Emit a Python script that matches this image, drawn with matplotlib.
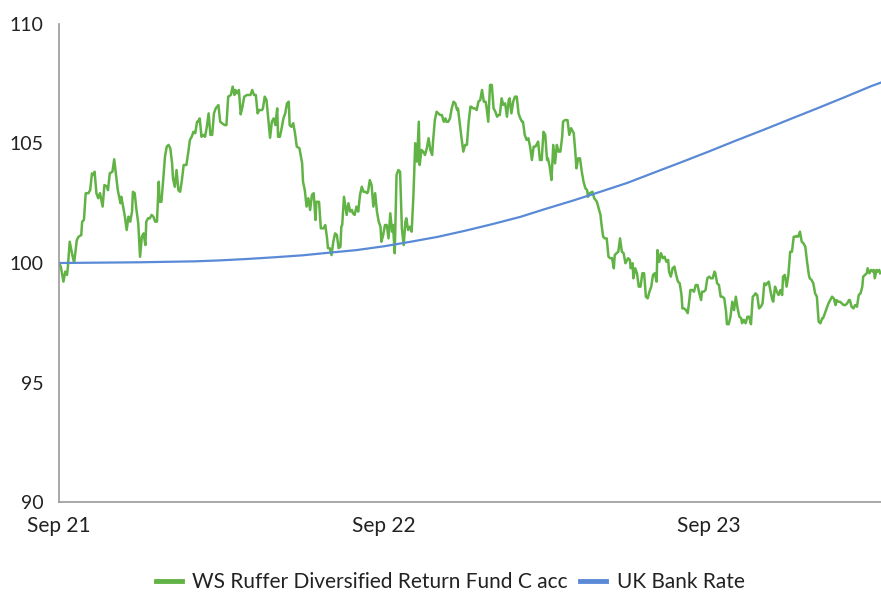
import matplotlib
matplotlib.use("Agg")
import matplotlib.pyplot as plt
import matplotlib.dates as mdates
import pandas as pd

# fund series: days since 1 Sep 2021, rebased value (start = 100)
START = pd.Timestamp("2021-09-01")

fund_days = [
    0, 2, 5, 7, 9, 10, 12, 15, 17, 20,
    22, 25, 26, 28, 30, 33, 35, 37, 39, 40,
    42, 44, 46, 49, 51, 54, 55, 57, 60, 62,
    64, 66, 69, 70, 72, 74, 76, 78, 80, 82,
    83, 85, 87, 89, 91, 93, 95, 97, 98, 100,
    102, 104, 106, 108, 110, 112, 113, 115, 117, 119,
    121, 123, 125, 127, 128, 130, 132, 134, 136, 138,
    140, 143, 145, 147, 149, 151, 153, 155, 156, 158,
    160, 162, 164, 166, 168, 170, 172, 174, 176, 179,
    181, 183, 186, 188, 190, 193, 195, 197, 198, 200,
    202, 204, 206, 208, 211, 215, 217, 219, 221, 223,
    225, 228, 229, 231, 233, 235, 237, 239, 241, 243,
    245, 246, 248, 250, 252, 254, 256, 258, 259, 261,
    263, 265, 267, 270, 273, 274, 276, 278, 280, 282,
    284, 286, 288, 289, 292, 294, 297, 299, 301, 302,
    304, 306, 308, 310, 312, 314, 316, 317, 318, 320,
    323, 325, 327, 329, 330, 332, 334, 336, 338, 340,
    342, 344, 346, 347, 349, 351, 353, 355, 357, 359,
    361, 362, 364, 366, 368, 370, 372, 374, 375, 377,
    379, 381, 383, 385, 387, 389, 390, 392, 394, 396,
    398, 400, 402, 404, 405, 407, 409, 411, 413, 415,
    417, 419, 420, 422, 424, 426, 428, 430, 432, 434,
    435, 437, 439, 441, 443, 445, 447, 448, 450, 452,
    454, 456, 458, 460, 462, 463, 465, 467, 469, 471,
    473, 475, 477, 479, 480, 482, 484, 486, 488, 490,
    492, 493, 495, 497, 499, 501, 503, 505, 506, 508,
    510, 512, 514, 516, 518, 520, 521, 523, 525, 527,
    529, 531, 533, 535, 536, 538, 540, 542, 544, 546,
    548, 549, 551, 553, 555, 557, 559, 561, 563, 565,
    566, 568, 571, 573, 575, 578, 580, 581, 583, 585,
    587, 589, 591, 593, 594, 596, 599, 601, 604, 606,
    608, 609, 611, 613, 615, 617, 619, 621, 623, 624,
    626, 628, 630, 632, 634, 636, 639, 641, 642, 644,
    645, 647, 649, 651, 653, 655, 657, 659, 661, 663,
    665, 667, 669, 671, 672, 674, 676, 678, 680, 682,
    684, 685, 687, 689, 691, 693, 695, 697, 699, 700,
    702, 704, 706, 708, 709, 711, 713, 715, 717, 719,
    721, 722, 724, 726, 728, 730, 732, 734, 736, 737,
    739, 741, 743, 745, 747, 749, 750, 752, 754, 756,
    758, 760, 762, 764, 766, 767, 769, 771, 773, 775,
    777, 779, 781, 782, 784, 786, 788, 790, 792, 794,
    795, 797, 799, 801, 802, 804, 806, 808, 810, 812,
    813, 815, 817, 819, 821, 823, 825, 827, 828, 830,
    832, 834, 836, 838, 840, 842, 843, 845, 847, 849,
    851, 853, 855, 857, 858, 860, 862, 864, 866, 868,
    870, 872, 873, 875, 877, 879, 881, 883, 885, 887,
    888, 890, 892, 894, 896, 898, 900, 902, 903, 905,
    907, 908, 910, 912, 914, 915, 916, 918, 919, 921,
    922,
]

fund_values = [
    100.00, 99.85, 99.22, 99.64, 99.50, 99.85, 100.89, 100.33, 100.01, 100.96,
    101.10, 101.17, 101.73, 101.80, 102.92, 102.92, 103.05, 103.75, 103.68, 103.82,
    102.92, 102.71, 102.92, 102.36, 103.26, 103.19, 103.05, 103.75, 103.82, 104.34,
    103.68, 103.05, 102.50, 102.77, 102.36, 101.94, 101.38, 101.94, 101.73, 102.15,
    102.98, 102.92, 102.22, 101.66, 100.26, 101.10, 101.24, 100.75, 101.73, 101.87,
    101.87, 102.01, 101.94, 101.73, 101.73, 103.40, 102.56, 102.56, 103.47, 104.45,
    104.87, 104.94, 104.80, 104.17, 103.54, 103.19, 103.89, 103.05, 102.98, 103.47,
    104.10, 104.10, 104.59, 105.15, 105.28, 105.49, 105.43, 105.91, 105.91, 106.05,
    105.28, 105.36, 105.28, 105.70, 106.26, 105.36, 105.36, 106.26, 106.47, 106.61,
    105.91, 105.85, 105.77, 105.77, 106.96, 107.03, 107.38, 107.03, 107.24, 107.10,
    107.24, 106.22, 106.54, 106.96, 107.03, 107.03, 107.24, 107.03, 107.03, 106.26,
    106.40, 106.40, 106.47, 106.96, 106.82, 106.05, 105.24, 105.91, 106.05, 105.77,
    106.47, 105.28, 105.28, 105.64, 106.05, 106.26, 106.68, 106.75, 105.77, 105.70,
    105.85, 105.43, 104.87, 104.80, 104.17, 103.40, 103.05, 102.36, 102.71, 102.22,
    102.85, 102.92, 101.80, 102.56, 102.56, 101.45, 101.45, 101.59, 101.03, 100.62,
    100.62, 100.33, 100.89, 101.24, 101.17, 100.62, 100.68, 101.52, 101.59, 102.77,
    102.01, 102.50, 102.15, 102.22, 102.08, 102.01, 102.36, 102.15, 102.85, 103.19,
    102.98, 102.98, 102.92, 102.98, 103.47, 103.26, 102.36, 102.92, 102.15, 101.73,
    101.52, 100.89, 101.17, 101.59, 101.59, 101.03, 102.08, 101.31, 101.59, 100.41,
    103.68, 103.89, 103.82, 101.45, 100.75, 101.73, 101.87, 101.38, 101.52, 101.31,
    102.85, 105.01, 104.24, 105.91, 104.10, 104.73, 104.66, 104.52, 104.80, 105.22,
    104.73, 104.52, 105.08, 105.98, 106.33, 106.26, 106.19, 106.19, 105.91, 106.05,
    105.91, 105.91, 106.05, 106.47, 106.75, 106.68, 106.40, 106.47, 105.85, 105.22,
    104.66, 104.94, 104.94, 105.91, 106.54, 106.54, 106.47, 106.47, 106.40, 106.75,
    106.82, 107.24, 106.75, 106.75, 106.54, 105.91, 107.45, 107.45, 106.47, 106.33,
    106.12, 106.19, 106.19, 106.89, 106.61, 106.68, 106.12, 106.82, 106.89, 106.26,
    106.75, 106.96, 106.96, 106.26, 106.05, 105.91, 105.91, 105.36, 105.15, 105.22,
    104.87, 104.31, 104.87, 104.87, 104.94, 105.08, 104.31, 104.31, 105.49, 105.36,
    104.31, 104.38, 104.03, 103.47, 104.94, 104.17, 104.94, 104.66, 104.66, 105.28,
    105.91, 105.98, 105.98, 105.36, 105.64, 105.43, 104.52, 103.96, 104.38, 104.38,
    103.82, 103.40, 103.13, 103.05, 102.77, 102.92, 102.98, 102.71, 102.56, 102.29,
    102.01, 101.66, 101.10, 101.03, 101.03, 100.26, 100.20, 100.20, 99.78, 100.33,
    100.41, 100.47, 101.03, 100.47, 100.41, 99.99, 100.20, 100.13, 99.78, 99.99,
    99.36, 99.78, 99.57, 99.01, 99.01, 99.57, 99.57, 98.59, 98.52, 98.80,
    99.01, 99.50, 99.57, 99.22, 100.54, 100.05, 100.41, 100.20, 100.26, 100.05,
    100.13, 99.64, 99.43, 99.78, 99.85, 99.50, 99.22, 99.15, 98.66, 98.10,
    98.10, 98.03, 97.90, 98.52, 98.87, 98.87, 98.80, 99.08, 99.08, 98.73,
    98.45, 98.80, 98.80, 98.87, 99.36, 99.43, 99.36, 99.36, 99.64, 99.57,
    99.15, 99.08, 98.59, 98.59, 98.52, 97.96, 97.44, 97.44, 97.75, 98.38,
    98.03, 98.59, 98.10, 97.75, 97.69, 97.48, 97.62, 97.48, 97.75, 97.75,
    97.44, 98.59, 98.66, 98.73, 98.66, 98.10, 98.17, 98.31, 99.15, 99.08,
    99.15, 99.22, 98.80, 98.45, 98.38, 99.01, 98.80, 98.66, 98.87, 98.66,
    99.43, 99.50, 99.01, 99.50, 100.47, 100.47, 101.10, 101.10, 101.13, 101.10,
    101.31, 100.89, 100.82, 100.68, 100.05, 99.50, 99.36, 99.29, 99.15, 98.73,
    98.59, 97.54, 97.48, 97.69, 97.69, 97.90, 98.10, 98.31, 98.45, 98.59,
    98.52, 98.24, 98.45, 98.38, 98.38, 98.31, 98.24, 98.24, 98.31, 98.45,
    98.45, 98.17, 98.10, 98.24, 98.17, 98.66, 98.73, 99.01, 99.43, 99.50,
    99.57, 99.78, 99.57, 99.71, 99.64, 99.71, 99.36, 99.71, 99.64, 99.71,
    99.57,
]

# UK Bank Rate, compounded and rebased, read at month starts
rate_months = pd.date_range("2021-09-01", "2024-03-01", freq="MS")
rate_end = pd.Timestamp("2024-03-12")
rate_values = [
    100.00, 100.01, 100.02, 100.03, 100.05, 100.07, 100.11, 100.17, 100.24, 100.32,
    100.43, 100.54, 100.70, 100.89, 101.10, 101.35, 101.63, 101.93, 102.26, 102.61,
    102.97, 103.35, 103.78, 104.22, 104.67, 105.12, 105.57, 106.02, 106.48, 106.95,
    107.40, 107.55,
]

y_ticks = [90, 95, 100, 105, 110]
x_ticks = ["2021-09-01", "2022-09-01", "2023-09-01"]

GREEN = "#62b346"
BLUE = "#5a8ad6"

plt.rcParams["font.family"] = ["Lato", "DejaVu Sans"]

fund_dates = START + pd.to_timedelta(fund_days, unit="D")
rate_dates = list(rate_months) + [rate_end]

fig = plt.figure(figsize=(8.81, 5.93), dpi=100)
ax = fig.add_axes([59 / 881, 91 / 593, 822 / 881, 478 / 593])

ax.plot(fund_dates, fund_values, color=GREEN, lw=1.8,
        label="WS Ruffer Diversified Return Fund C acc")
ax.plot(rate_dates, rate_values, color=BLUE, lw=1.6, label="UK Bank Rate")

ax.set_ylim(90, 110)
ax.set_yticks(y_ticks)
ax.set_xlim(START, rate_end)
ax.set_xticks(pd.to_datetime(x_ticks))
ax.xaxis.set_major_formatter(mdates.DateFormatter("%b %y"))

for side in ["top", "right"]:
    ax.spines[side].set_visible(False)
for side in ["left", "bottom"]:
    ax.spines[side].set_color("#9a9a9a")
    ax.spines[side].set_linewidth(1.2)

ax.tick_params(length=0, colors="#222222")
ax.tick_params(axis="y", pad=11, labelsize=14)
ax.tick_params(axis="x", pad=10, labelsize=15)

leg = fig.legend(loc="lower center", bbox_to_anchor=(0.511, -0.03), ncol=2,
                 frameon=False, fontsize=15, handlelength=1.25,
                 columnspacing=0.6, handletextpad=0.5)
for line in leg.get_lines():
    line.set_linewidth(3.5)
for t in leg.get_texts():
    t.set_color("#222222")

fig.savefig("out.png", dpi=100)
